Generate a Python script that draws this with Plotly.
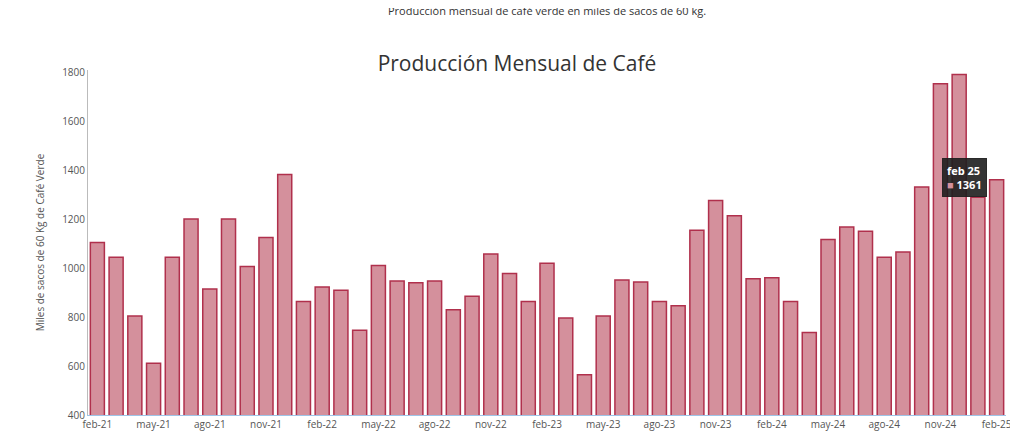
import plotly.graph_objects as go

meses = ["ene", "feb", "mar", "abr", "may", "jun", "jul", "ago", "sep", "oct", "nov", "dic"]

months = []
for yr in range(21, 26):
    for m in meses:
        months.append(f"{m}-{yr}")
months = months[1:50]  # feb-21 .. feb-25

produccion = [1105, 1045, 805, 611, 1045, 1201, 915, 1201, 1007, 1125, 1383, 864,
              923, 910, 746, 1011, 948, 940, 948, 830, 885, 1058, 978, 864,
              1020, 796, 564, 805, 952, 944, 864, 847, 1155, 1277, 1214, 957,
              961, 864, 737, 1117, 1168, 1151, 1045, 1066, 1332, 1754, 1792, 1290,
              1361]

tick_labels = months[::3]

fig = go.Figure(go.Bar(
    x=months,
    y=produccion,
    marker=dict(color="#d4909c", line=dict(color="#b0304c", width=1.5)),
    width=0.75,
))

fig.add_annotation(
    x=months[-1], y=produccion[-1], xref="x", yref="y",
    text="<b>feb 25</b><br><span style='color:#d4909c'>■</span> <b>1361</b>",
    showarrow=False, xshift=-32, yshift=2, align="left",
    bgcolor="rgba(30,30,30,0.9)", bordercolor="rgba(30,30,30,0.9)",
    font=dict(color="white", size=11), borderpad=4,
)

fig.update_layout(
    width=1018, height=441,
    paper_bgcolor="white", plot_bgcolor="white",
    font=dict(family="Open Sans", color="#555"),
    title=dict(text="Producción Mensual de Café", x=0.5, y=0.89,
               font=dict(size=21, color="#333")),
    margin=dict(l=80, r=20, t=62, b=34),
    showlegend=False,
    bargap=0.25,
    xaxis=dict(tickmode="array", tickvals=tick_labels, ticktext=tick_labels,
               tickfont=dict(size=10), showgrid=False,
               showline=True, linecolor="#9ec5e8", range=[-0.5, 48.5]),
    yaxis=dict(range=[400, 1810], tickvals=[400, 600, 800, 1000, 1200, 1400, 1600, 1800],
               tickfont=dict(size=10), showgrid=False, showline=True,
               linecolor="#bbb",
               title=dict(text="Miles de sacos de 60 Kg de Café Verde", font=dict(size=10))),
)

fig.add_annotation(
    text="Producción mensual de café verde en miles de sacos de 60 kg.",
    xref="paper", yref="paper", x=0.5, y=1.2, showarrow=False,
    font=dict(size=11, color="#333"),
)

fig.write_html("out.html")
